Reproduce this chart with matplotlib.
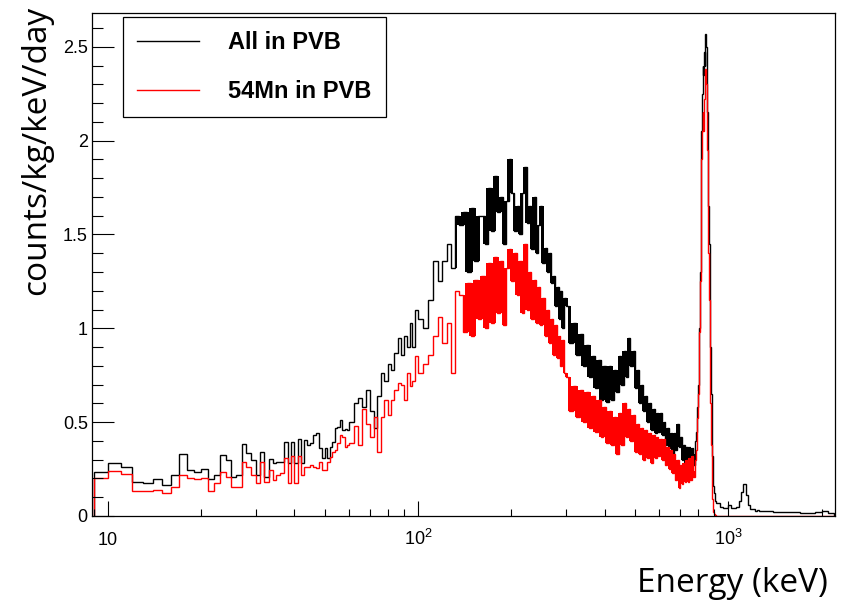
import numpy as np
import matplotlib
matplotlib.use('Agg')
import matplotlib.pyplot as plt
from matplotlib.lines import Line2D
from matplotlib.ticker import FixedLocator, LogLocator, MultipleLocator, FuncFormatter, NullFormatter

plt.rcParams['mathtext.default'] = 'regular'

# bin edges in keV (1 keV at low energy, coarser further up)
edges = np.concatenate([np.arange(9, 60, 1), np.arange(60, 100, 2), np.arange(100, 300, 4),
                        np.arange(300, 780, 8), np.arange(780, 920, 4), np.arange(920, 1300, 20),
                        np.arange(1300, 2201, 100)])

# All in PVB (counts/kg/keV/day)
all_pvb = [
    # 9-60 keV
    0.236, 0.284, 0.263, 0.183, 0.178, 0.197, 0.163, 0.219, 0.330, 0.245,
    0.236, 0.249, 0.195, 0.219, 0.325, 0.298, 0.210, 0.219, 0.384, 0.334,
    0.298, 0.219, 0.343, 0.210, 0.304, 0.284, 0.290, 0.290, 0.396, 0.281,
    0.396, 0.280, 0.409, 0.280, 0.405, 0.378, 0.387, 0.432, 0.441, 0.361,
    0.307, 0.361, 0.307, 0.370, 0.396, 0.467, 0.476, 0.512, 0.458, 0.462, 0.458,
    # 60-100 keV
    0.50, 0.60, 0.63, 0.58, 0.67, 0.56, 0.47, 0.64, 0.76, 0.72,
    0.81, 0.78, 0.87, 0.95, 0.86, 0.96, 0.90, 1.03, 0.90, 1.10,
    # 100-300 keV
    1.05, 1.00, 1.15, 1.36, 1.25, 1.36, 1.45, 1.32, 1.60, 1.55,
    1.62, 1.30, 1.64, 1.36, 1.60, 1.60, 1.45, 1.75, 1.52, 1.81,
    1.62, 1.70, 1.45, 1.68, 1.90, 1.72, 1.52, 1.65, 1.50, 1.72,
    1.86, 1.56, 1.65, 1.42, 1.70, 1.40, 1.55, 1.65, 1.35, 1.43,
    1.30, 1.40, 1.24, 1.28, 1.12, 1.22, 1.05, 1.20, 1.00, 1.16,
    # 300-780 keV
    1.12, 0.92, 1.03, 0.86, 0.97, 0.80, 0.91, 0.74, 0.85, 0.68,
    0.83, 0.62, 0.80, 0.61, 0.80, 0.62, 0.78, 0.66, 0.85, 0.70,
    0.88, 0.74, 0.95, 0.80, 0.88, 0.68, 0.78, 0.60, 0.70, 0.56,
    0.64, 0.50, 0.60, 0.46, 0.57, 0.44, 0.55, 0.45, 0.55, 0.43,
    0.50, 0.38, 0.47, 0.36, 0.44, 0.33, 0.44, 0.35, 0.49, 0.37,
    0.42, 0.30, 0.38, 0.27, 0.37, 0.25, 0.37, 0.24, 0.36, 0.27,
    # 780-920 keV
    0.33, 0.40, 0.45, 0.50, 0.58, 0.70, 0.85, 1.00, 1.30, 1.60,
    2.05, 2.25, 2.40, 2.35, 2.47, 2.40, 2.57, 2.50, 2.45, 2.15,
    2.00, 1.65, 1.45, 1.15, 0.90, 0.65, 0.45, 0.32, 0.22, 0.16,
    0.12, 0.10, 0.08, 0.07, 0.07,
    # 920-1300 keV
    0.070, 0.050, 0.040, 0.045, 0.060, 0.040, 0.045, 0.050, 0.080, 0.130,
    0.170, 0.110, 0.060, 0.035, 0.035, 0.028, 0.030, 0.026, 0.028,
    # 1300-2200 keV
    0.025, 0.022, 0.022, 0.020, 0.018, 0.017, 0.020, 0.025, 0.016,
]

# 54Mn in PVB
mn54_pvb = [
    # 9-60 keV
    0.200, 0.242, 0.222, 0.133, 0.133, 0.139, 0.124, 0.156, 0.219, 0.204,
    0.197, 0.204, 0.133, 0.174, 0.233, 0.210, 0.156, 0.156, 0.290, 0.263,
    0.219, 0.174, 0.290, 0.183, 0.245, 0.192, 0.219, 0.227, 0.307, 0.174,
    0.320, 0.174, 0.320, 0.219, 0.263, 0.263, 0.272, 0.263, 0.254, 0.290,
    0.245, 0.245, 0.290, 0.316, 0.343, 0.352, 0.387, 0.432, 0.423, 0.370, 0.378,
    # 60-100 keV
    0.39, 0.48, 0.38, 0.57, 0.49, 0.42, 0.53, 0.34, 0.53, 0.62,
    0.54, 0.62, 0.67, 0.71, 0.70, 0.62, 0.76, 0.69, 0.72, 0.85,
    # 100-300 keV
    0.76, 0.81, 0.86, 0.96, 1.06, 0.92, 1.03, 0.76, 1.20, 1.18,
    0.98, 1.24, 0.96, 1.26, 1.05, 1.28, 1.00, 1.35, 1.03, 1.38,
    1.08, 1.36, 1.02, 1.32, 1.42, 1.25, 1.40, 1.18, 1.36, 1.08,
    1.45, 1.10, 1.30, 1.05, 1.26, 1.03, 1.22, 1.02, 1.16, 0.96,
    1.10, 0.92, 1.05, 0.86, 1.02, 0.84, 0.96, 0.80, 0.94, 0.76,
    # 300-780 keV
    0.74, 0.56, 0.69, 0.53, 0.67, 0.50, 0.66, 0.47, 0.64, 0.45,
    0.62, 0.42, 0.58, 0.39, 0.56, 0.38, 0.53, 0.33, 0.55, 0.38,
    0.60, 0.42, 0.57, 0.40, 0.54, 0.34, 0.49, 0.33, 0.47, 0.30,
    0.46, 0.31, 0.44, 0.28, 0.43, 0.31, 0.42, 0.32, 0.41, 0.30,
    0.41, 0.27, 0.37, 0.25, 0.35, 0.23, 0.33, 0.19, 0.30, 0.15,
    0.27, 0.17, 0.28, 0.18, 0.30, 0.18, 0.31, 0.19, 0.32, 0.21,
    # 780-920 keV
    0.24, 0.30, 0.35, 0.42, 0.52, 0.65, 0.80, 0.98, 1.25, 1.55,
    1.90, 2.05, 2.15, 2.05, 2.22, 2.30, 2.38, 2.30, 2.20, 1.95,
    1.70, 1.40, 1.15, 0.85, 0.60, 0.38, 0.20, 0.09, 0.04, 0.02,
    0.010, 0.005, 0.003, 0.002, 0.002,
    # 920-1300 keV
    0.002, 0.002, 0.002, 0.002, 0.002, 0.002, 0.002, 0.002, 0.002, 0.002,
    0.002, 0.002, 0.002, 0.002, 0.002, 0.002, 0.002, 0.002, 0.002,
    # 1300-2200 keV
    0.002, 0.002, 0.002, 0.002, 0.002, 0.002, 0.002, 0.002, 0.002,
]

xticks = [10, 100, 1000]
xtick_labels = ['10', '10$^{2}$', '10$^{3}$']


def dense_band(ax, vals, color, e_lo, e_hi):
    # fine 1 keV binning looks like a filled band at high energy:
    # fill between neighbouring bin contents
    v = np.asarray(vals)
    e = np.asarray(edges)
    lo = np.minimum(v[:-1], v[1:])
    hi = np.maximum(v[:-1], v[1:])
    x = e[1:-1]
    sel = (x >= e_lo) & (x <= e_hi)
    ax.fill_between(x[sel], lo[sel], hi[sel], step='mid', color=color, lw=0)


fig = plt.figure(figsize=(8.44, 6.0), dpi=100)
ax = fig.add_axes([92 / 844, 84 / 600, 743 / 844, 503 / 600])

ax.stairs(all_pvb, edges, baseline=0, color='black', lw=1.0)
dense_band(ax, all_pvb, 'black', 132, 780)
ax.stairs(mn54_pvb, edges, baseline=0, color='#ff0000', lw=1.0)
dense_band(ax, mn54_pvb, '#ff0000', 140, 780)

ax.set_xscale('log')
ax.set_xlim(8.9, 2210)
ax.set_ylim(0, 2.68)

ax.xaxis.set_major_locator(FixedLocator(xticks))
ax.xaxis.set_major_formatter(FuncFormatter(lambda v, p: xtick_labels[xticks.index(int(round(v)))] if int(round(v)) in xticks else ''))
ax.xaxis.set_minor_locator(LogLocator(base=10, subs=np.arange(2, 10)))
ax.xaxis.set_minor_formatter(NullFormatter())
ax.yaxis.set_major_locator(MultipleLocator(0.5))
ax.yaxis.set_minor_locator(MultipleLocator(0.1))
ax.yaxis.set_major_formatter(FuncFormatter(lambda v, p: '%g' % v))

tick_font = 'Liberation Sans'
ax.tick_params(axis='both', which='both', direction='in', top=False, right=False, width=0.8, colors='black')
ax.tick_params(axis='x', which='major', length=10.8, pad=21, labelsize=13)
ax.tick_params(axis='x', which='minor', length=5.2)
ax.tick_params(axis='y', which='major', length=15.8, pad=3, labelsize=13)
ax.tick_params(axis='y', which='minor', length=7.9)
for lab in ax.get_xticklabels() + ax.get_yticklabels():
    lab.set_fontfamily(tick_font)
for lab in ax.get_xticklabels():
    lab.set_va('baseline')
for s in ax.spines.values():
    s.set_linewidth(0.9)

handles = [Line2D([], [], color='black', lw=1.0), Line2D([], [], color='#ff0000', lw=1.0)]
leg = ax.legend(handles, ['All in PVB', '54Mn in PVB'], loc='upper left',
                bbox_to_anchor=(31 / 743, 1 - 4 / 503), borderaxespad=0,
                prop={'family': tick_font, 'weight': 'bold', 'size': 17},
                fancybox=False, framealpha=1, edgecolor='black',
                handlelength=2.6, handletextpad=1.25, labelspacing=1.1, borderpad=0.6)
leg.get_frame().set_linewidth(0.9)

fig.text(37 / 844, 1 - 150 / 600, 'counts/kg/keV/day', rotation=90, ha='center', va='center',
         family='Open Sans', fontsize=24)
fig.text(828 / 844, 8 / 600, 'Energy (keV)', ha='right', va='baseline',
         family='Open Sans', fontsize=24)

fig.savefig('out.png', dpi=100)
